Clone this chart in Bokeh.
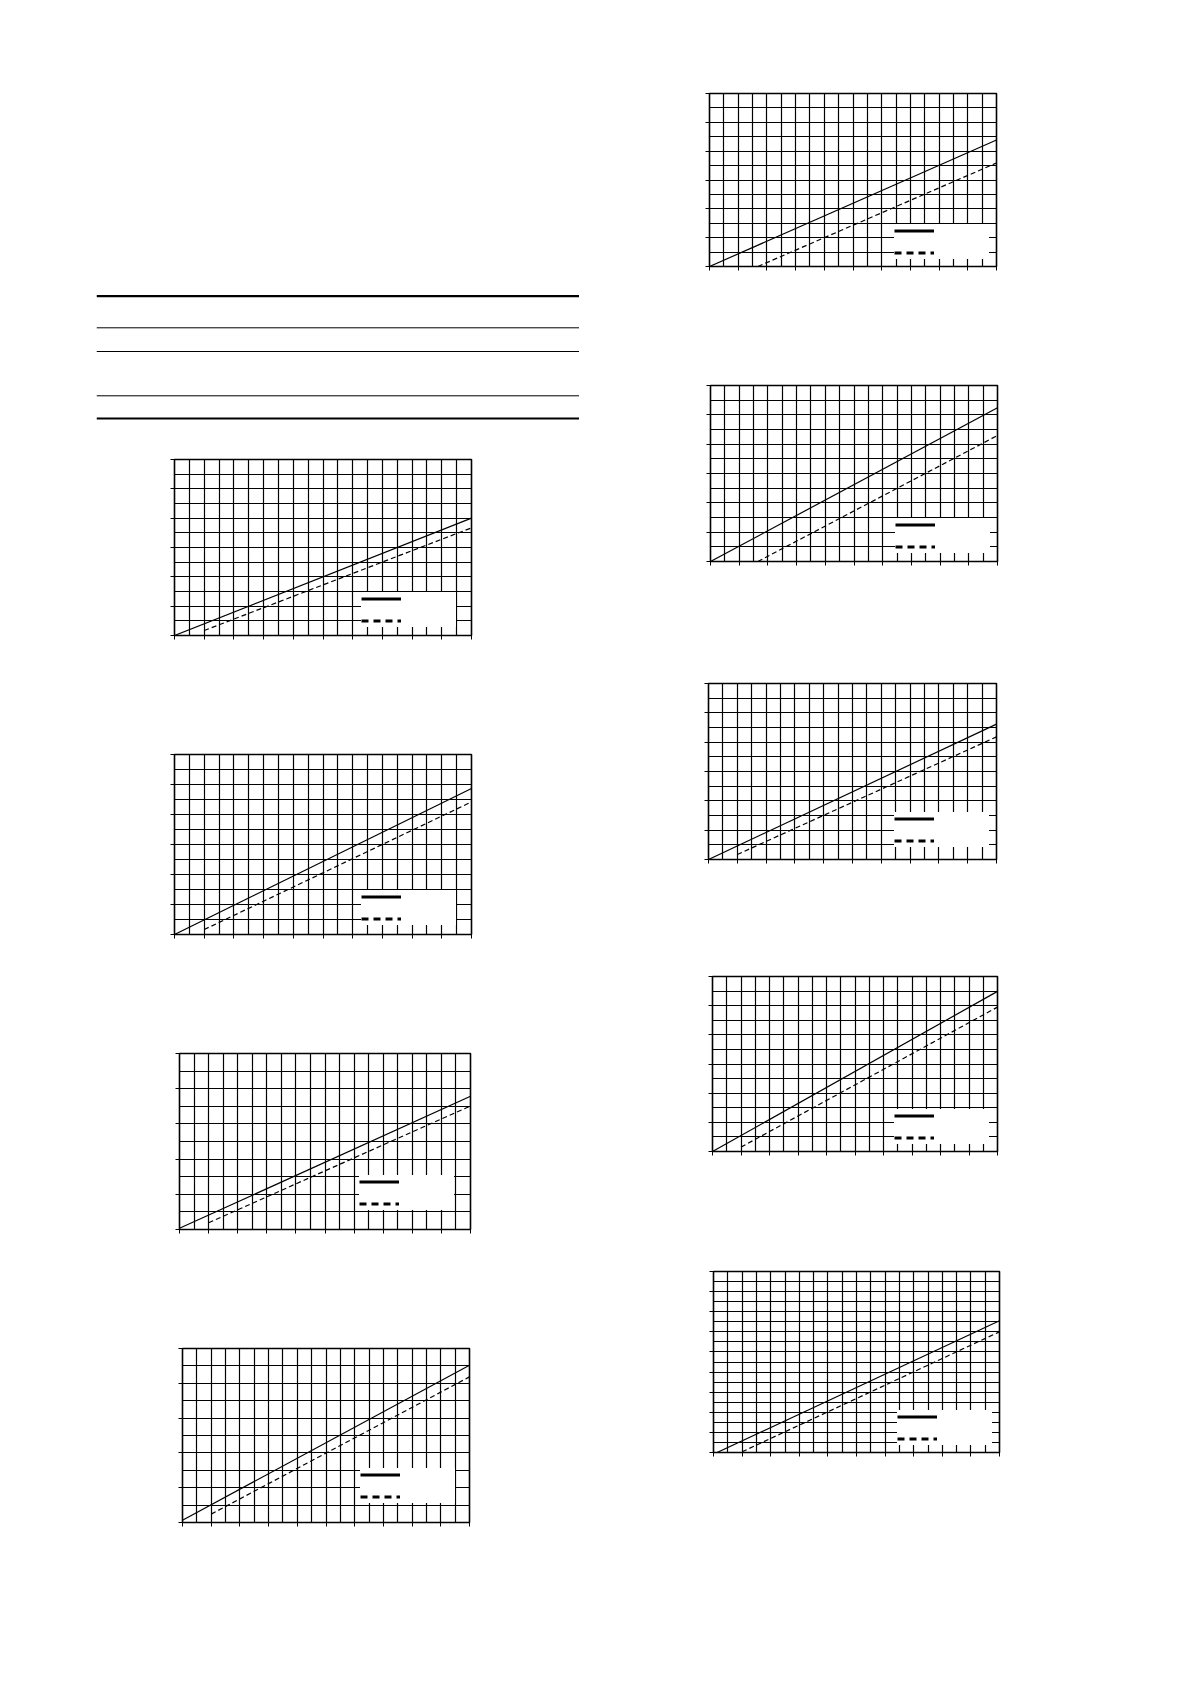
from bokeh.plotting import figure
from bokeh.models import (Range1d, SingleIntervalTicker, Legend, LegendItem, Spacer, Span,
                          ColumnDataSource, CustomJSTickFormatter)
from bokeh.layouts import column, row
from bokeh.embed import file_html
from bokeh.resources import INLINE

# ---------------- data (grid units: x 0..20, y 0..n rows) ----------------
x_cells = 20

l1_rows = 12
l1_solid_x = [0, 20]
l1_solid_y = [0.0, 8.0]
l1_dash_x = [2, 20]
l1_dash_y = [0.34, 7.34]

l2_rows = 12
l2_solid_x = [0, 20]
l2_solid_y = [0.0, 9.73]
l2_dash_x = [2, 20]
l2_dash_y = [0.33, 8.84]

l3_rows = 10
l3_solid_x = [0, 20]
l3_solid_y = [0.07, 7.57]
l3_dash_x = [2, 20]
l3_dash_y = [0.38, 7.02]

l4_rows = 10
l4_solid_x = [0, 20]
l4_solid_y = [0.13, 9.04]
l4_dash_x = [2, 20]
l4_dash_y = [0.48, 8.37]

r1_rows = 12
r1_solid_x = [0, 20]
r1_solid_y = [0.0, 8.77]
r1_dash_x = [3.37, 20]
r1_dash_y = [0.0, 7.18]

r2_rows = 12
r2_solid_x = [0, 20]
r2_solid_y = [0.0, 10.48]
r2_dash_x = [3.3, 20]
r2_dash_y = [0.0, 8.59]

r3_rows = 12
r3_solid_x = [0, 20]
r3_solid_y = [0.0, 9.23]
r3_dash_x = [2, 20]
r3_dash_y = [0.34, 8.36]

r4_rows = 12
r4_solid_x = [0, 20]
r4_solid_y = [0.0, 10.98]
r4_dash_x = [2, 20]
r4_dash_y = [0.3, 9.9]

r5_rows = 18
r5_solid_x = [0.25, 20]
r5_solid_y = [0.0, 13.1]
r5_dash_x = [2, 20]
r5_dash_y = [0.07, 12.0]

# legend box top-left corner (grid units)
l1_legend = (12.6, 3.75)
l2_legend = (12.6, 3.73)
l3_legend = (12.4, 3.74)
l4_legend = (12.4, 3.77)
r1_legend = (12.86, 3.76)
r2_legend = (12.9, 3.75)
r3_legend = (12.9, 4.0)
r4_legend = (12.75, 3.72)
r5_legend = (12.85, 5.38)

# table rules (offset from table top, px) and their weights
table_rule_pos = [5.7, 37.3, 61, 105.3, 128]
table_rule_w = [2.2, 1, 1, 1, 2]

# ---------------- layout (screen px) ----------------
TOP = 5
BOTTOM = 30
MBL = 10
MBR = 10
LEFT_COL_W = 600
RIGHT_COL_W = 1190 - LEFT_COL_W
LEG_PAD, LEG_H_ITEM, LEG_SP, LEG_GW, LEG_LW = 6, 13, 9, 40, 55
LEG_H = 2 * LEG_PAD + 2 * LEG_H_ITEM + LEG_SP


def make_chart(fw, fh, ny, sx, sy, dx, dy, leg):
    p = figure(frame_width=fw, frame_height=fh, min_border_left=MBL, min_border_right=MBR,
               min_border_top=TOP, min_border_bottom=BOTTOM,
               x_range=Range1d(0, x_cells), y_range=Range1d(0, ny),
               toolbar_location=None, output_backend="svg", title=None)
    p.background_fill_color = "white"
    p.border_fill_color = "white"
    p.outline_line_color = "black"
    p.outline_line_width = 1.6
    p.xgrid.ticker = SingleIntervalTicker(interval=1)
    p.ygrid.ticker = SingleIntervalTicker(interval=1)
    p.grid.grid_line_color = "black"
    p.grid.grid_line_alpha = 1
    p.grid.grid_line_width = 1.2
    p.xaxis.ticker = SingleIntervalTicker(interval=2, num_minor_ticks=0)
    p.yaxis.ticker = SingleIntervalTicker(interval=2, num_minor_ticks=0)
    p.axis.formatter = CustomJSTickFormatter(code="return ''")
    p.axis.major_label_standoff = 0
    p.axis.major_tick_out = 4
    p.axis.major_tick_in = 0
    p.axis.minor_tick_out = 0
    p.axis.minor_tick_in = 0
    p.axis.axis_line_color = "black"
    p.axis.major_tick_line_color = "black"
    s_src = ColumnDataSource(dict(x=sx, y=sy))
    d_src = ColumnDataSource(dict(x=dx, y=dy))
    p.line("x", "y", source=s_src, line_color="black", line_width=1.2)
    p.line("x", "y", source=d_src, line_color="black", line_width=1.2, line_dash="5 3")
    # legend keys: same series, hidden in the frame, thick sample in the key
    k1 = p.line("x", "y", source=s_src, line_color="black", line_width=3, visible=False)
    k2 = p.line("x", "y", source=d_src, line_color="black", line_width=3,
                line_dash="7 5", visible=False)
    lx = leg[0] / x_cells * fw
    ly = leg[1] / ny * fh - LEG_H
    legend = Legend(items=[LegendItem(label="", renderers=[k1]),
                           LegendItem(label="", renderers=[k2])],
                    location=(lx, ly), margin=0, padding=LEG_PAD, spacing=LEG_SP,
                    glyph_width=LEG_GW, glyph_height=LEG_H_ITEM, label_height=LEG_H_ITEM,
                    label_width=LEG_LW, label_standoff=0, label_text_font_size="8px",
                    background_fill_color="white", background_fill_alpha=1,
                    border_line_color=None, click_policy="none")
    p.add_layout(legend)
    return p


def build_column(specs, col_x0, col_w, first=None):
    kids = []
    cursor = 0
    if first is not None:
        fig, left, top, h = first
        kids.append(Spacer(width=col_w, height=top))
        kids.append(row(Spacer(width=left - col_x0, height=h), fig, spacing=0))
        cursor = top + h
    for (left, top, fw, fh, ny, sx, sy, dx, dy, leg) in specs:
        p = make_chart(fw, fh, ny, sx, sy, dx, dy, leg)
        off = left - MBL - col_x0
        gap = (top - TOP) - cursor
        kids.append(Spacer(width=col_w, height=gap))
        kids.append(row(Spacer(width=off, height=TOP + fh + BOTTOM), p, spacing=0))
        cursor = top + fh + BOTTOM
    return column(*kids, spacing=0)


# table block
tbl = figure(frame_width=483, frame_height=132, min_border_left=0, min_border_right=0,
             min_border_top=0, min_border_bottom=0, x_range=Range1d(0, 1), y_range=Range1d(132, 0),
             x_axis_type=None, y_axis_type=None, toolbar_location=None, output_backend="svg", title=None)
tbl.grid.visible = False
tbl.outline_line_color = None
tbl.border_fill_color = "white"
for pos, w in zip(table_rule_pos, table_rule_w):
    tbl.add_layout(Span(location=pos, dimension="width", line_color="black", line_width=w))

left_specs = [
    (174, 459, 297, 176, l1_rows, l1_solid_x, l1_solid_y, l1_dash_x, l1_dash_y, l1_legend),
    (174, 754, 297, 180, l2_rows, l2_solid_x, l2_solid_y, l2_dash_x, l2_dash_y, l2_legend),
    (179, 1053, 291, 176, l3_rows, l3_solid_x, l3_solid_y, l3_dash_x, l3_dash_y, l3_legend),
    (182, 1348, 287, 174, l4_rows, l4_solid_x, l4_solid_y, l4_dash_x, l4_dash_y, l4_legend),
]
right_specs = [
    (709, 93, 287, 173, r1_rows, r1_solid_x, r1_solid_y, r1_dash_x, r1_dash_y, r1_legend),
    (710, 385, 287, 176, r2_rows, r2_solid_x, r2_solid_y, r2_dash_x, r2_dash_y, r2_legend),
    (708, 683, 288, 176, r3_rows, r3_solid_x, r3_solid_y, r3_dash_x, r3_dash_y, r3_legend),
    (712, 976, 285, 175, r4_rows, r4_solid_x, r4_solid_y, r4_dash_x, r4_dash_y, r4_legend),
    (713, 1271, 286, 181, r5_rows, r5_solid_x, r5_solid_y, r5_dash_x, r5_dash_y, r5_legend),
]

left_col = build_column(left_specs, 0, LEFT_COL_W, first=(tbl, 96, 290, 132))
right_col = build_column(right_specs, LEFT_COL_W, RIGHT_COL_W)
page = row(left_col, right_col, spacing=0)

open("out.html", "w").write(file_html(page, INLINE))
